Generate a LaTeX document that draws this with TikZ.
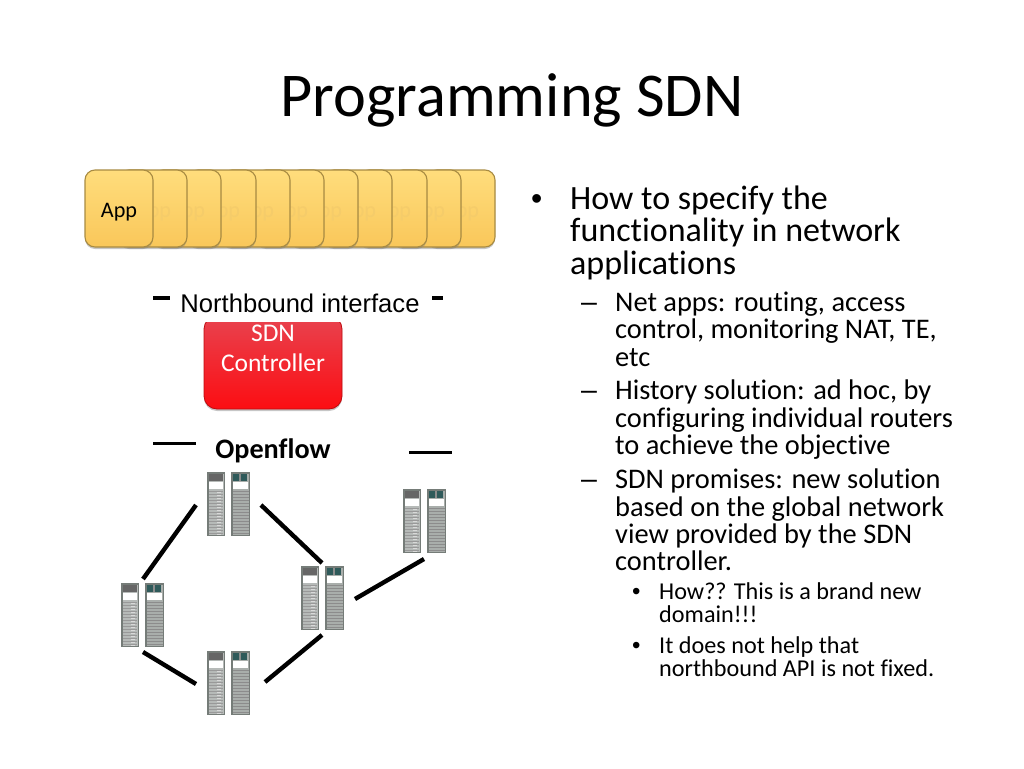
\documentclass[tikz,border=0pt]{standalone}
\usepackage{fontspec}
\setmainfont[Ligatures=NoCommon]{Carlito}
\newfontfamily\arialfont{Liberation Sans}
\usetikzlibrary{shadows}
\definecolor{apptop}{HTML}{FFDD7C}
\definecolor{appbot}{HTML}{F9C75A}
\definecolor{appedge}{HTML}{A88B42}
\definecolor{apptext}{HTML}{F5CC6A}
\definecolor{ctltop}{HTML}{E8434F}
\definecolor{ctlbot}{HTML}{FC0D12}
\definecolor{rackgray}{HTML}{757C78}
\definecolor{rackbody}{HTML}{A9AEAB}
\definecolor{rackteal}{HTML}{2F5A5A}
\newcommand{\fsize}[1]{\fontsize{#1}{#1}\selectfont}
\tikzset{
  appbox/.style={draw=appedge,line width=1.1pt,rounded corners=10pt,top color=apptop,bottom color=appbot,
    minimum width=68pt,minimum height=77pt,inner sep=0pt,text=apptext,font=\fsize{22.2},
    text height=18pt,text depth=1pt,
    drop shadow={shadow xshift=0pt,shadow yshift=-2pt,opacity=0.45}},
  ctlbox/.style={draw=ctlbot!75!black,line width=0.8pt,rounded corners=13pt,top color=ctltop,bottom color=ctlbot,
    minimum width=138pt,minimum height=93pt,
    inner sep=0pt,drop shadow={shadow xshift=0pt,shadow yshift=-2pt,opacity=0.45}},
  ctltext/.style={anchor=base,text=white,inner sep=0pt,font=\fsize{25.5}},
  linetext/.style={anchor=base west,inner sep=0pt},
  gapline/.style={line width=3pt,preaction={draw=black!25,transform canvas={yshift=-1.5pt}}},
  link/.style={line width=4.4pt},
  rackpair/.pic={
    % left rack
    \fill[rackgray] (0,0) rectangle (18,64);
    \fill[rackbody!85!white] (1.5,1.5) rectangle (16.5,62.5);
    \fill[black!60] (2,2) rectangle (16,9);
    \fill[white] (2,10) rectangle (16,17);
    \foreach \y in {19,22,...,61} {
      \draw[black!40,line width=0.5pt] (2,\y) -- (16,\y);
      \draw[white!85!black,line width=1pt] (10,\y+1) -- (14,\y+1);
    }
    % right rack
    \fill[rackgray] (24,0) rectangle (43,64);
    \fill[rackbody] (25.5,1.5) rectangle (41.5,62.5);
    \fill[rackteal] (26,2) rectangle (40,9);
    \fill[black!45] (32,2) rectangle (34,9);
    \fill[white] (26,10) rectangle (41,17);
    \foreach \y in {19,22,...,61} {
      \draw[black!45,line width=0.6pt] (25.5,\y) -- (41.5,\y);
    }
  }
}
\begin{document}
\begin{tikzpicture}[x=1pt,y=-1pt]
  \useasboundingbox (0,0) rectangle (1024,768);
  % title
  \node[anchor=base,inner sep=0pt,font=\fsize{62.3}] (title) at (512,116) {Programming SDN};
  % app stack
  \foreach \i/\x in {11/461,10/427,9/393,8/358,7/324,6/290,5/256,4/222,3/187,2/153} {
    \node[appbox] (app\i) at (\x,208.5) {App};
  }
  \node[appbox,text=black] (app1) at (119,208.5) {App};
  % controller
  \node[ctlbox] (ctl) at (273,362.5) {};
  \node[anchor=base,inner sep=0pt,fill=white,minimum width=238pt,text depth=10pt,text height=27pt,
    font=\arialfont\fsize{25.6}] (north) at (300,312) {Northbound interface};
  \node[ctltext] (ctl1) at (273,341) {SDN};
  \node[ctltext] (ctl2) at (273,371) {Controller};
  \node[anchor=base,inner sep=0pt,font=\bfseries\fsize{28.2}] (oflow) at (273,458) {Openflow};
  % short lines
  \foreach \n/\xa/\xb/\y/\w in {na/153/170/298/4,nb/432/443/298/3.5,oa/153/196/443/3,ob/409/452/452/3} {
    \coordinate (\n l) at (\xa,\y);
    \coordinate (\n r) at (\xb,\y);
    \draw[gapline,line width=\w pt] (\n l) -- (\n r);
  }
  % switches
  \pic (rtop) at (207,472) {rackpair};
  \pic (rfar) at (403,489) {rackpair};
  \pic (rmid) at (301,566) {rackpair};
  \pic (rlft) at (121,583) {rackpair};
  \pic (rbot) at (207,651) {rackpair};
  % links
  \foreach \n/\xa/\ya/\xb/\yb in {ka/196/505/143/579,kb/261/505/322/563,kc/355/599/424/559,kd/322/635/265/682,ke/143/652/196/684} {
    \coordinate (\n s) at (\xa,\ya);
    \coordinate (\n e) at (\xb,\yb);
    \draw[link] (\n s) -- (\n e);
  }
  % bullets
  \foreach \n/\x/\y/\t/\s in {ba/531/209/•/32,bb/581/311/–/28.5,bc/581/399/–/28.5,bd/581/488/–/28.5,be/632/599/•/24,bf/632/653/•/24} {
    \node[linetext,font=\arialfont\fsize{\s}] (\n) at (\x,\y) {\t};
  }
  % text
  \foreach \n/\y/\t in {ta/209/How to specify the,tb/241/functionality in network,tc/274/applications} {
    \node[linetext,font=\fsize{34}] (\n) at (570,\y) {\t};
  }
  \foreach \n/\y/\t in {ua/311/{Net apps: routing, access},ub/338/{control, monitoring NAT, TE,},uc/366/etc,
    ud/399/{History solution: ad hoc, by},ue/427/configuring individual routers,uf/454/to achieve the objective,
    ug/488/{SDN promises: new solution},uh/516/based on the global network,ui/543/view provided by the SDN,uj/570/controller.} {
    \node[linetext,font=\fsize{28.4}] (\n) at (615,\y) {\t};
  }
  \foreach \n/\y/\t in {va/599/How?? This is a brand new,vb/622/domain!!!,vc/653/It does not help that,vd/676/northbound API is not fixed.} {
    \node[linetext,font=\fsize{24.2}] (\n) at (659,\y) {\t};
  }
\end{tikzpicture}
\end{document}
